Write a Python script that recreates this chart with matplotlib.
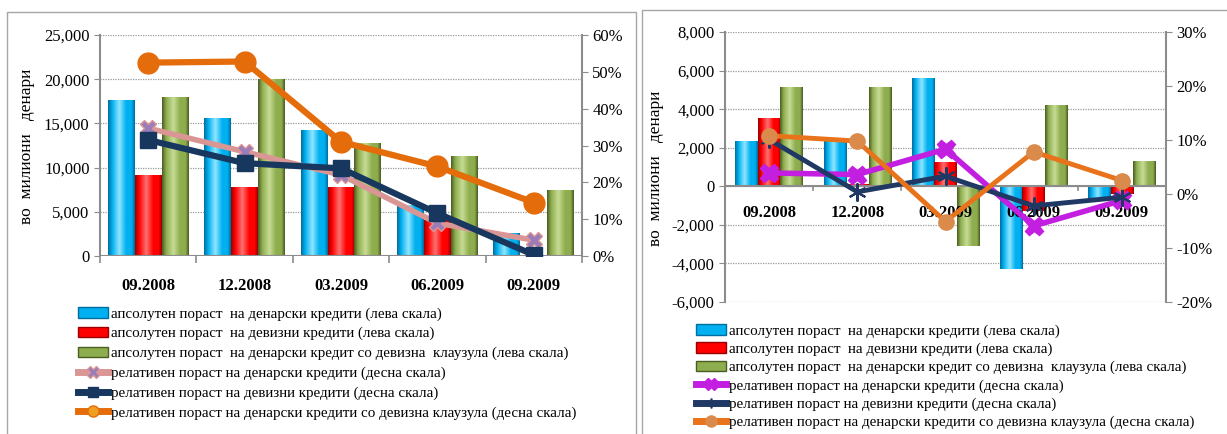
import numpy as np
import matplotlib.pyplot as plt
from matplotlib.colors import LinearSegmentedColormap
from matplotlib.lines import Line2D
from matplotlib.patches import Rectangle
from matplotlib.ticker import FuncFormatter, MultipleLocator

plt.rcParams['font.family'] = ['Liberation Serif', 'DejaVu Serif']

periods = ['09.2008', '12.2008', '03.2009', '06.2009', '09.2009']

# left chart (annual growth)
abs_denar_l = [17600, 15500, 14200, 5700, 2500]
abs_fx_l = [9100, 7700, 7700, 4000, -200]
abs_clause_l = [17900, 20000, 12700, 11300, 7400]
rel_denar_l = [34.7, 28.3, 22.0, 8.9, 4.3]
rel_fx_l = [31.5, 25.2, 23.8, 11.6, 0.3]
rel_clause_l = [52.5, 52.8, 31.0, 24.3, 14.5]

# right chart (quarterly growth)
abs_denar_r = [2300, 2300, 5600, -4300, -700]
abs_fx_r = [3500, 100, 1200, -1300, -400]
abs_clause_r = [5100, 5100, -3100, 4150, 1250]
rel_denar_r = [3.9, 3.6, 8.3, -5.9, -1.2]
rel_fx_r = [10.1, 0.4, 3.3, -2.2, -0.6]
rel_clause_r = [10.8, 9.8, -5.1, 7.8, 2.5]

bar_labels = ['апсолутен пораст  на денарски кредити (лева скала)',
              'апсолутен пораст  на девизни кредити (лева скала)',
              'апсолутен пораст  на денарски кредит со девизна  клаузула (лева скала)']
line_labels = ['релативен пораст на денарски кредити (десна скала)',
               'релативен пораст на девизни кредити (десна скала)',
               'релативен пораст на денарски кредити со девизна клаузула (десна скала)']

# base, light, dark for the shaded bars
blue = ('#00B0F0', '#8FE6FF', '#006E9E')
red = ('#FF0000', '#FF7070', '#9A0000')
green = ('#8EAD4E', '#C6DC95', '#4A5E22')

grid_c = '#9A9A9A'
spine_c = '#8C8C8C'
tick_fs = 12


def shaded_bars(ax, xs, vals, width, col):
    base, light, dark = col
    bars = ax.bar(xs, vals, width, color=base, zorder=2)
    cmap = LinearSegmentedColormap.from_list(
        'bevel', [(0, dark), (0.15, base), (0.42, light), (0.68, base), (0.88, base), (1, dark)])
    grad = np.linspace(0, 1, 64).reshape(1, -1)
    for b in bars:
        h = b.get_height()
        if h == 0:
            continue
        x0, y0, w = b.get_x(), b.get_y(), b.get_width()
        ax.imshow(grad, extent=(x0, x0 + w, y0, y0 + h), aspect='auto',
                  cmap=cmap, zorder=2.1, interpolation='bilinear')
    return bars


def style_axes(ax, ax2):
    for s in ['top', 'bottom', 'right']:
        ax.spines[s].set_visible(False)
    for s in ['top', 'bottom', 'left']:
        ax2.spines[s].set_visible(False)
    ax.spines['left'].set_color(spine_c)
    ax2.spines['right'].set_color(spine_c)
    ax.spines['left'].set_linewidth(1.5)
    ax2.spines['right'].set_linewidth(1.5)
    ax.yaxis.grid(True, linestyle=(0, (1, 1)), color=grid_c, linewidth=0.9)
    ax.set_axisbelow(True)
    ax.tick_params(axis='y', colors=spine_c, labelcolor='black', labelsize=tick_fs, length=4)
    ax2.tick_params(axis='y', colors=spine_c, labelcolor='black', labelsize=tick_fs, length=4)
    ax.yaxis.set_major_formatter(FuncFormatter(lambda v, p: f'{v:,.0f}'))
    ax2.yaxis.set_major_formatter(FuncFormatter(lambda v, p: f'{v:.0f}%'))


fig = plt.figure(figsize=(12.27, 4.34), dpi=100)

# panel frames
fig.patches.append(Rectangle((7 / 1227, -0.02), 629 / 1227, 1.02 - 12 / 434,
                             transform=fig.transFigure, fill=False, edgecolor='#A6A6A6', lw=1))
fig.patches.append(Rectangle((642 / 1227, -0.02), 600 / 1227, 1.02 - 10 / 434,
                             transform=fig.transFigure, fill=False, edgecolor='#A6A6A6', lw=1))

x = np.arange(len(periods))

# ---- left chart
axL = fig.add_axes([100 / 1227, 1 - 256 / 434, 482 / 1227, 221 / 434])
wL = 0.28
shaded_bars(axL, x - wL, abs_denar_l, wL, blue)
shaded_bars(axL, x, abs_fx_l, wL, red)
shaded_bars(axL, x + wL, abs_clause_l, wL, green)
axL.set_xlim(-0.5, 4.5)
axL.set_ylim(0, 25000)
axL.yaxis.set_major_locator(MultipleLocator(5000))
axL.axhline(0, color=spine_c, lw=1.5, zorder=3)
axL.set_xticks(x)
axL.set_xticklabels(periods, fontweight='bold', fontsize=tick_fs)
axL.set_xticks(np.arange(-0.5, 5, 1), minor=True)
axL.tick_params(axis='x', which='major', length=0, pad=16)
axL.tick_params(axis='x', which='minor', length=5, color=spine_c, width=1.2)

axL2 = axL.twinx()
axL2.set_ylim(0, 60)
axL2.yaxis.set_major_locator(MultipleLocator(10))
axL2.plot(x, rel_denar_l, color='#D99694', lw=4, marker='X', ms=11,
          mfc='#9B7BB8', mec='#D99694', mew=1, zorder=3)
axL2.plot(x, rel_fx_l, color='#17375E', lw=4.5, marker='s', ms=11, zorder=4)
axL2.plot(x, rel_clause_l, color='#E46C0A', lw=4.5, marker='o', ms=15, zorder=5)
style_axes(axL, axL2)

fig.text(27 / 1227, 1 - 146 / 434, 'во  милиони   денари', rotation=90,
         ha='center', va='center', fontsize=12.5)

# ---- right chart
axR = fig.add_axes([725 / 1227, 1 - 302 / 434, 441 / 1227, 270 / 434])
wR = 0.255
shaded_bars(axR, x - wR, abs_denar_r, wR, blue)
shaded_bars(axR, x, abs_fx_r, wR, red)
shaded_bars(axR, x + wR, abs_clause_r, wR, green)
axR.set_xlim(-0.5, 4.5)
axR.set_ylim(-6000, 8000)
axR.yaxis.set_major_locator(MultipleLocator(2000))
axR.axhline(0, color=spine_c, lw=1.5, zorder=3)
axR.set_xticks([])
for i, p in enumerate(periods):
    axR.annotate(p, (i, 0), xytext=(0, -27), textcoords='offset pixels',
                 ha='center', va='center', fontweight='bold', fontsize=tick_fs, zorder=4)
for b in np.arange(0.5, 4, 1):
    axR.plot([b, b], [0, -180], color=spine_c, lw=1.2, zorder=3)

axR2 = axR.twinx()
axR2.set_ylim(-20, 30)
axR2.yaxis.set_major_locator(MultipleLocator(10))
axR2.plot(x, rel_denar_r, color='#C31FE0', lw=4, marker='X', ms=13, zorder=3)
axR2.plot(x, rel_fx_r, color='#1F3864', lw=3.5, marker=(6, 2, 0), ms=13, mew=1.5, zorder=4)
axR2.plot(x, rel_clause_r, color='#E8731A', lw=3.5, marker='o', ms=11,
          mfc='#DA8A4A', mec='#DA8A4A', zorder=5)
style_axes(axR, axR2)

fig.text(656 / 1227, 1 - 168 / 434, 'во  милиони   денари', rotation=90,
         ha='center', va='center', fontsize=12.5)

# ---- legends
def bar_handle(col):
    return Rectangle((0, 0), 1, 1, facecolor=col[0], edgecolor=col[2], lw=1)


hL = [bar_handle(blue), bar_handle(red), bar_handle(green),
      Line2D([], [], color='#D99694', lw=5, marker='X', ms=8, mfc='#9B7BB8', mec='#D99694'),
      Line2D([], [], color='#17375E', lw=5, marker='s', ms=7),
      Line2D([], [], color='#E46C0A', lw=5, marker='o', ms=8, mfc='#F0A020')]
fig.legend(hL, bar_labels + line_labels, loc='upper left',
           bbox_to_anchor=(78 / 1227, 1 - 307 / 434), frameon=False, fontsize=10.8,
           borderpad=0, borderaxespad=0, handlelength=2.0, handletextpad=0.2,
           labelspacing=0.41)

hR = [bar_handle(blue), bar_handle(red), bar_handle(green),
      Line2D([], [], color='#C31FE0', lw=5, marker='X', ms=8),
      Line2D([], [], color='#1F3864', lw=5, marker=(6, 2, 0), ms=7, mew=1.2),
      Line2D([], [], color='#E8731A', lw=5, marker='o', ms=8, mfc='#DA8A4A', mec='#DA8A4A')]
fig.legend(hR, bar_labels + line_labels, loc='upper left',
           bbox_to_anchor=(696 / 1227, 1 - 324 / 434), frameon=False, fontsize=10.8,
           borderpad=0, borderaxespad=0, handlelength=2.0, handletextpad=0.2,
           labelspacing=0.31)

fig.savefig('out.png', dpi=100)
